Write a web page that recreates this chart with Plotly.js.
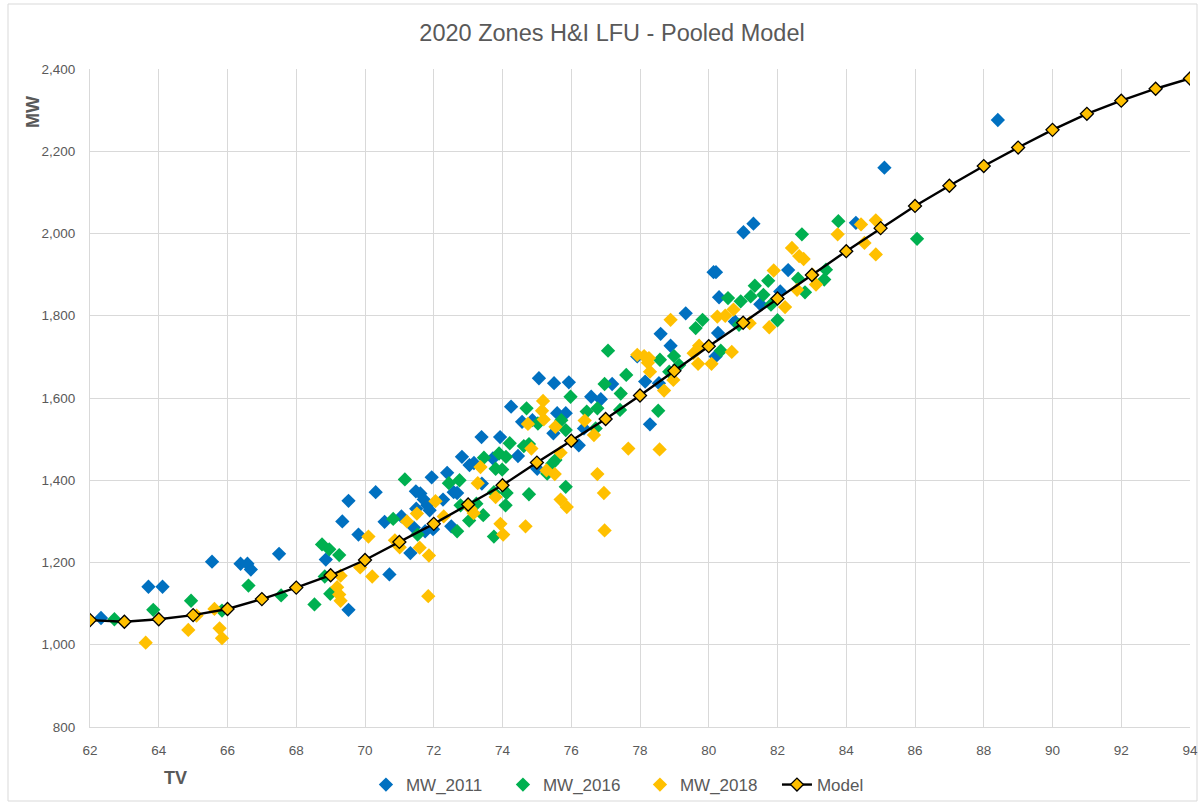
<!DOCTYPE html>
<html>
<head>
<meta charset="utf-8">
<script src="https://cdn.plot.ly/plotly-3.0.1.min.js"></script>
<style>html,body{margin:0;padding:0;background:#fff;}#chart{width:1200px;height:805px;}</style>
</head>
<body>
<div id="chart"></div>
<script>
// MW_2011
const tv2011 = [62.32,63.70,64.11,65.55,66.38,66.58,66.68,67.50,68.86,69.34,69.52,69.81,70.31,69.52,70.71,70.57,71.06,71.49,71.48,71.61,71.71,71.81,71.88,71.94,71.32,71.42,71.75,71.98,72.27,72.39,72.58,72.68,72.51,72.82,73.04,73.17,73.40,73.72,73.39,73.93,75.06,75.50,75.93,77.19,74.25,74.57,74.87,75.59,75.84,75.48,76.58,76.86,76.37,76.22,74.45,75.01,79.33,78.60,78.89,80.27,80.76,81.50,77.92,78.15,78.55,78.29,80.20,81.01,81.30,80.14,80.21,82.31,82.08,80.30,84.28,88.41,85.11];
const mw2011 = [1065,1141,1141,1202,1197,1197,1183,1221,1207,1300,1350,1268,1371,1085,1171,1299,1312,1331,1373,1368,1353,1339,1327,1407,1223,1285,1276,1281,1353,1418,1371,1369,1288,1457,1437,1442,1392,1453,1505,1505,1648,1636,1638,1634,1579,1542,1546,1563,1563,1514,1603,1597,1526,1485,1459,1428,1806,1756,1727,1758,1786,1828,1701,1640,1636,1536,1701,2003,2024,1906,1906,1911,1859,1845,2026,2276,2160];

// MW_2016
const tv2016 = [62.71,63.84,64.94,66.61,65.84,67.56,68.53,68.75,68.96,69.25,68.83,68.99,71.16,70.82,71.53,72.44,72.75,72.78,73.03,72.68,73.44,73.24,73.46,73.80,73.99,73.90,74.10,73.75,74.09,73.75,74.70,75.98,74.21,74.77,74.62,75.03,75.71,75.84,76.45,76.76,77.44,77.42,77.60,76.97,76.71,74.12,74.77,75.84,75.54,75.45,75.30,77.07,79.82,79.62,80.93,82.00,78.99,78.58,79.14,78.85,80.35,78.53,83.77,82.71,86.06,83.41,83.36,82.60,82.80,81.73,81.34,81.59,81.22,80.56,81.81,80.88];
const mw2016 = [1062,1085,1107,1144,1083,1120,1098,1244,1232,1218,1166,1124,1402,1306,1268,1393,1400,1339,1302,1276,1315,1343,1455,1428,1426,1465,1457,1371,1339,1263,1575,1603,1490,1488,1483,1538,1546,1522,1567,1575,1611,1571,1656,1634,1526,1369,1366,1384,1449,1441,1416,1715,1790,1770,1835,1789,1702,1693,1680,1664,1715,1569,2030,1998,1987,1912,1888,1890,1857,1885,1873,1851,1847,1843,1827,1778];

// MW_2018
const tv2018 = [63.62,64.86,65.10,65.62,65.77,65.84,69.29,69.19,69.25,69.29,70.10,69.86,70.21,70.87,71.01,71.59,71.22,71.51,71.86,71.84,72.05,72.29,73.07,73.16,73.36,73.28,73.80,73.94,74.02,75.18,75.15,75.20,74.74,75.54,76.39,76.66,74.84,75.69,75.28,75.52,75.69,75.87,76.76,76.95,76.97,77.66,74.67,78.89,77.92,78.12,78.26,78.23,78.29,78.97,78.70,79.56,79.72,79.69,80.08,80.67,80.25,80.48,80.72,81.19,81.76,78.57,84.86,84.43,83.75,84.53,84.86,82.42,82.63,82.76,81.89,83.02,83.12,82.57,82.22];
const mw2018 = [1005,1036,1071,1087,1040,1016,1168,1140,1122,1107,1263,1188,1166,1254,1237,1236,1300,1319,1217,1118,1349,1312,1331,1320,1432,1393,1359,1294,1268,1593,1569,1548,1537,1530,1545,1510,1477,1467,1424,1415,1353,1335,1415,1369,1278,1477,1288,1790,1705,1702,1697,1686,1664,1644,1618,1709,1727,1683,1683,1712,1798,1800,1815,1782,1772,1475,2032,2022,1998,1977,1949,1965,1945,1938,1910,1900,1876,1863,1821];

// Model
const tvModel = [62,63,64,65,66,67,68,69,70,71,72,73,74,75,76,77,78,79,80,81,82,83,84,85,86,87,88,89,90,91,92,93,94];
const mwModel = [1060,1056,1062,1072,1087,1111,1139,1169,1206,1250,1294,1341,1388,1443,1496,1549,1606,1666,1726,1783,1842,1899,1957,2013,2067,2116,2164,2209,2252,2291,2323,2352,2377];

const FONT = "Liberation Sans, Arial, sans-serif";
const GREY = "#595959";

const mk = (c) => ({symbol: "diamond", size: 11, color: c, line: {width: 0}});

const traces = [
  {type: "scatter", mode: "markers", name: "MW_2011", x: tv2011, y: mw2011, marker: mk("#0070C0")},
  {type: "scatter", mode: "markers", name: "MW_2016", x: tv2016, y: mw2016, marker: mk("#00B050")},
  {type: "scatter", mode: "markers", name: "MW_2018", x: tv2018, y: mw2018, marker: mk("#FFC000")},
  {type: "scatter", mode: "lines+markers", name: "Model", x: tvModel, y: mwModel,
   line: {color: "#000000", width: 2.4},
   marker: {symbol: "diamond", size: 10, color: "#FFC000", line: {color: "#000000", width: 1.3}}}
];

const layout = {
  width: 1200, height: 805,
  paper_bgcolor: "#ffffff", plot_bgcolor: "#ffffff",
  margin: {l: 90, r: 10, t: 69, b: 78, autoexpand: false},
  font: {family: FONT, color: GREY},
  title: {text: "2020 Zones H&I LFU - Pooled Model", font: {family: FONT, size: 23.5, color: GREY},
          x: 0.51, xanchor: "center", y: 1 - 33/805, yanchor: "middle"},
  xaxis: {range: [62, 94], dtick: 2, tick0: 62, showgrid: true, gridcolor: "#d9d9d9", gridwidth: 1,
          zeroline: false, showline: true, linecolor: "#d9d9d9", ticks: "", ticklen: 0, ticklabelstandoff: 11,
          tickfont: {family: FONT, size: 13.5, color: GREY}, fixedrange: true},
  yaxis: {range: [800, 2400], dtick: 200, tick0: 800, showgrid: true, gridcolor: "#d9d9d9", gridwidth: 1,
          zeroline: false, showline: true, linecolor: "#d9d9d9", ticks: "", tickformat: ",d", ticklabelstandoff: 11,
          tickfont: {family: FONT, size: 13.5, color: GREY}, fixedrange: true},
  showlegend: true,
  legend: {orientation: "h", xref: "container", yref: "container", x: 0.5333, xanchor: "center",
           y: 1 - 785/805, yanchor: "middle", entrywidth: 92, entrywidthmode: "pixels",
           font: {family: FONT, size: 17, color: GREY}, bgcolor: "rgba(0,0,0,0)"},
  annotations: [
    {text: "<b>TV</b>", xref: "paper", yref: "paper", x: (175-90)/1100, y: (727-778)/658,
     showarrow: false, font: {family: FONT, size: 18, color: GREY}, xanchor: "center", yanchor: "middle"},
    {text: "<b>MW</b>", xref: "paper", yref: "paper", x: (33-90)/1100, y: (727-112)/658, textangle: -90,
     showarrow: false, font: {family: FONT, size: 18, color: GREY}, xanchor: "center", yanchor: "middle"}
  ],
  shapes: [
    {type: "rect", xref: "paper", yref: "paper", x0: (8-90)/1100, x1: (1197-90)/1100,
     y0: (727-801)/658, y1: (727-4)/658, line: {color: "#d9d9d9", width: 1}, fillcolor: "rgba(0,0,0,0)", layer: "below"}
  ]
};

Plotly.newPlot("chart", traces, layout, {displayModeBar: false, staticPlot: true});
</script>
</body>
</html>
